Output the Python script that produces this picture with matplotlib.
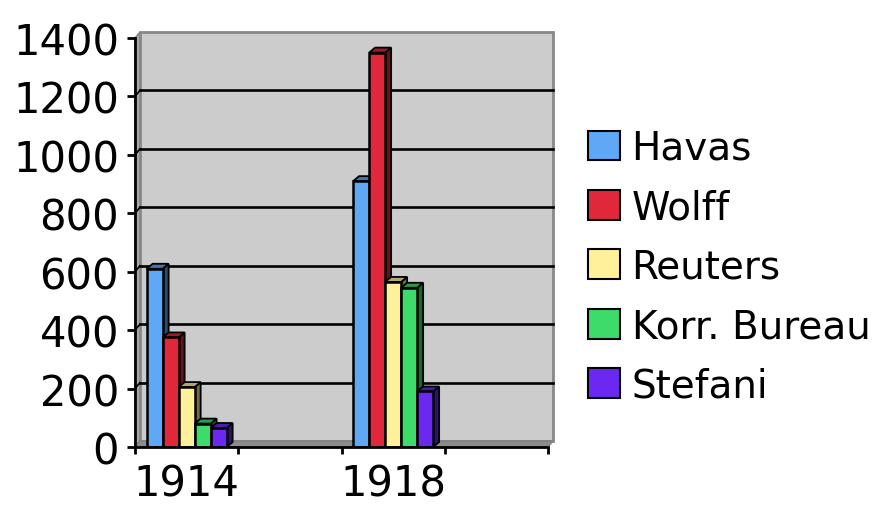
import numpy as np
import matplotlib.pyplot as plt
from matplotlib.patches import Polygon, Rectangle, Patch

years = ["1914", "1918"]
year_slots = [0, 2]          # two empty slots follow each year on the axis
agencies = ["Havas", "Wolff", "Reuters", "Korr. Bureau", "Stefani"]
values_1914 = [610, 375, 205, 80, 65]
values_1918 = [910, 1350, 565, 545, 190]
colors = ["#5EA8F5", "#E0283A", "#FFF09A", "#3DDC6A", "#6A28F0"]

W, H, DPI = 875, 506, 100
L, R, B, T = 135, 548, 448, 39          # front plot box in pixels
XMIN, XMAX, YMAX = -0.5, 3.5, 1400
DX_PX, DY_PX = 6, 5                     # fake 3D depth of bars
WALL_DX, WALL_DY = 5, 6                 # depth of back wall


def shade(c, f):
    rgb = np.array(plt.matplotlib.colors.to_rgb(c))
    return tuple(rgb * f)


fig = plt.figure(figsize=(W / DPI, H / DPI), dpi=DPI)
ax = fig.add_axes([L / W, (H - B) / H, (R - L) / W, (B - T) / H])
ax.set_xlim(XMIN, XMAX)
ax.set_ylim(0, YMAX)
ax.set_facecolor("none")

px_x = (R - L) / (XMAX - XMIN)
px_y = (B - T) / YMAX
dx, dy = DX_PX / px_x, DY_PX / px_y
wdx, wdy = WALL_DX / px_x, WALL_DY / px_y

# back wall, side wall and floor
ax.add_patch(Polygon([(XMIN, 0), (XMIN + wdx, wdy), (XMIN + wdx, YMAX + wdy), (XMIN, YMAX)],
                     closed=True, fc="#A8A8A8", ec="#808080", lw=1, clip_on=False, zorder=0))
ax.add_patch(Rectangle((XMIN + wdx, wdy), XMAX - XMIN, YMAX, fc="#CCCCCC", ec="#888888",
                       lw=2, clip_on=False, zorder=0))
ax.add_patch(Polygon([(XMIN, 0), (XMAX, 0), (XMAX + wdx, wdy), (XMIN + wdx, wdy)],
                     closed=True, fc="#8C8C8C", ec="#808080", lw=1, clip_on=False, zorder=0.5))
for g in range(200, YMAX, 200):
    ax.plot([XMIN + wdx, XMAX + wdx], [g + wdy, g + wdy], color="black", lw=1.9,
            clip_on=False, zorder=0.6)
    ax.plot([XMIN, XMIN + wdx], [g, g + wdy], color="black", lw=1.2,
            clip_on=False, zorder=0.6)

# bars: front face, side face and top face
bw = 0.155
z = 1
for slot, vals in zip(year_slots, [values_1914, values_1918]):
    x0 = slot - bw * len(vals) / 2
    for i, (v, c) in enumerate(zip(vals, colors)):
        xa, xb = x0 + i * bw, x0 + (i + 1) * bw
        ax.add_patch(Polygon([(xb, 0), (xb + dx, dy), (xb + dx, v + dy), (xb, v)],
                             closed=True, fc=shade(c, 0.45), ec="black", lw=1.3, zorder=z))
        ax.add_patch(Polygon([(xa, v), (xb, v), (xb + dx, v + dy), (xa + dx, v + dy)],
                             closed=True, fc=shade(c, 0.7), ec="black", lw=1.3, zorder=z))
        ax.add_patch(Rectangle((xa, 0), bw, v, fc=c, ec="black", lw=1.8, zorder=z + 0.5))
        z += 1

ax.set_yticks(np.arange(0, YMAX + 1, 200))
ax.set_xticks(np.arange(XMIN, XMAX + 0.01, 1.0))
ax.set_xticklabels([])
ax.set_xticks(year_slots, minor=True)
ax.set_xticklabels(years, minor=True)
ax.tick_params(axis="y", direction="out", length=5.5, width=2, labelsize=30, pad=6)
ax.tick_params(axis="x", which="major", direction="out", length=5, width=2)
ax.tick_params(axis="x", which="minor", length=0, labelsize=30, pad=11)
for s in ["top", "right"]:
    ax.spines[s].set_visible(False)
for s in ["left", "bottom"]:
    ax.spines[s].set_linewidth(2)
    ax.spines[s].set_zorder(50)

handles = [Patch(fc=c, ec="black", lw=1.5) for c in colors]
fig.legend(handles, agencies, loc="upper left", bbox_to_anchor=(588 / W, 1 - 130 / H),
           frameon=False, fontsize=28, handlelength=0.82, handleheight=0.8,
           handletextpad=0.3, labelspacing=0.55, borderaxespad=0, borderpad=0)

fig.savefig("out.png", dpi=DPI)
